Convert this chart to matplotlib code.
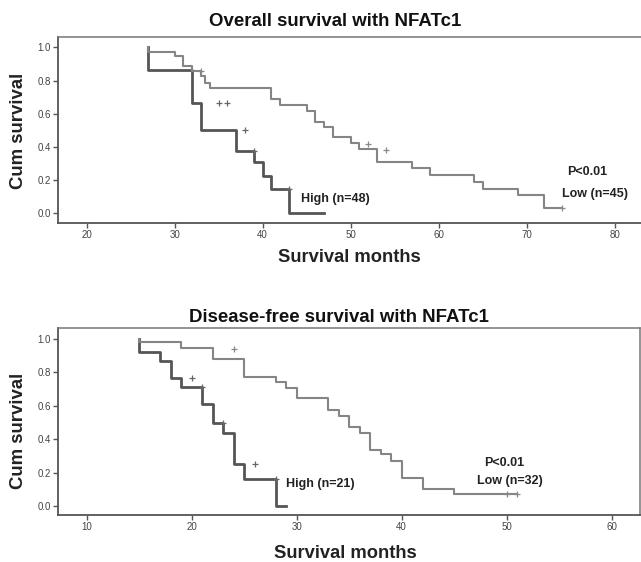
import matplotlib
matplotlib.use('Agg')
import matplotlib.pyplot as plt

plt.rcParams['font.family'] = ['Liberation Sans', 'DejaVu Sans']

# --- overall survival (top) ---
os_high_t = [27, 27, 32, 33, 37, 39, 40, 41, 43, 47]
os_high_s = [1.0, 0.863, 0.668, 0.502, 0.378, 0.31, 0.225, 0.15, 0.0, 0.0]
os_low_t = [27, 27, 30, 31, 32, 33, 33.5, 34, 41, 42, 45, 46, 47, 48, 50, 51, 53, 57, 59, 64, 65, 69, 72, 74]
os_low_s = [1.0, 0.975, 0.95, 0.885, 0.855, 0.83, 0.785, 0.753, 0.687, 0.652, 0.62, 0.552, 0.522,
            0.461, 0.422, 0.387, 0.307, 0.271, 0.231, 0.19, 0.15, 0.114, 0.036, 0.036]
os_high_cens_t = [35, 36, 38, 39, 43]
os_high_cens_s = [0.668, 0.668, 0.502, 0.378, 0.15]
os_low_cens_t = [33, 52, 54, 74]
os_low_cens_s = [0.855, 0.42, 0.385, 0.036]

# --- disease-free survival (bottom) ---
dfs_high_t = [15, 15, 17, 18, 19, 21, 22, 23, 24, 25, 28, 29]
dfs_high_s = [1.0, 0.92, 0.868, 0.765, 0.714, 0.609, 0.495, 0.435, 0.25, 0.162, 0.0, 0.0]
dfs_low_t = [15, 15, 19, 22, 25, 28, 29, 30, 33, 34, 35, 36, 37, 38, 39, 40, 42, 45, 51]
dfs_low_s = [1.0, 0.98, 0.944, 0.88, 0.774, 0.744, 0.71, 0.645, 0.575, 0.541, 0.475, 0.439,
             0.335, 0.311, 0.269, 0.17, 0.102, 0.07, 0.07]
dfs_high_cens_t = [20, 21, 23, 26, 28]
dfs_high_cens_s = [0.765, 0.714, 0.495, 0.25, 0.162]
dfs_low_cens_t = [24, 50, 51]
dfs_low_cens_s = [0.94, 0.07, 0.07]

HIGH_C = '#555555'
LOW_C = '#858585'
FRAME_C = '#555555'

fig = plt.figure(figsize=(6.41, 5.62), dpi=100)


def km_panel(rect, xlim, xticks, high, low, hcens, lcens, show_right):
    ax = fig.add_axes(rect)
    ax.step(high[0], high[1], where='post', color=HIGH_C, lw=2.0)
    ax.step(low[0], low[1], where='post', color=LOW_C, lw=1.5)
    ax.plot(hcens[0], hcens[1], '+', color='#666666', ms=5, mew=0.9)
    ax.plot(lcens[0], lcens[1], '+', color='#888888', ms=5, mew=0.9)
    ax.set_xlim(*xlim)
    ax.set_ylim(-0.058, 1.062)
    ax.set_xticks(xticks)
    ax.set_yticks([0.0, 0.2, 0.4, 0.6, 0.8, 1.0])
    ax.set_yticklabels(['0.0', '0.2', '0.4', '0.6', '0.8', '1.0'])
    ax.tick_params(direction='out', length=3.5, width=1.0, color=FRAME_C,
                   labelsize=7, labelcolor='#444444', pad=1.5)
    for side in ['left', 'bottom']:
        ax.spines[side].set_color(FRAME_C)
        ax.spines[side].set_linewidth(1.3)
    for side in ['top', 'right']:
        ax.spines[side].set_color('#777777')
        ax.spines[side].set_linewidth(1.1)
    ax.spines['right'].set_visible(show_right)
    return ax


ax1 = km_panel([0.0905, 0.603, 0.9095, 0.331], (16.74, 83.0), [20, 30, 40, 50, 60, 70, 80],
               (os_high_t, os_high_s), (os_low_t, os_low_s),
               (os_high_cens_t, os_high_cens_s), (os_low_cens_t, os_low_cens_s), False)
ax1.text(44.4, 0.086, 'High (n=48)', fontsize=9, fontweight='bold', color='#222222', va='center')
ax1.text(76.9, 0.25, 'P<0.01', fontsize=9, fontweight='bold', color='#222222', ha='center', va='center')
ax1.text(77.8, 0.12, 'Low (n=45)', fontsize=9, fontweight='bold', color='#222222', ha='center', va='center')

ax2 = km_panel([0.0905, 0.0836, 0.908, 0.332], (7.27, 62.7), [10, 20, 30, 40, 50, 60],
               (dfs_high_t, dfs_high_s), (dfs_low_t, dfs_low_s),
               (dfs_high_cens_t, dfs_high_cens_s), (dfs_low_cens_t, dfs_low_cens_s), True)
ax2.set_ylim(-0.054, 1.064)
ax2.text(29.0, 0.132, 'High (n=21)', fontsize=9, fontweight='bold', color='#222222', va='center')
ax2.text(49.8, 0.26, 'P<0.01', fontsize=9, fontweight='bold', color='#222222', ha='center', va='center')
ax2.text(50.3, 0.15, 'Low (n=32)', fontsize=9, fontweight='bold', color='#222222', ha='center', va='center')

# titles and axis labels placed in figure coords
fig.text(335 / 641, 1 - 22 / 562, 'Overall survival with NFATc1', fontsize=13.4, fontweight='bold',
         ha='center', va='center', color='#111111')
fig.text(339 / 641, 1 - 317 / 562, 'Disease-free survival with NFATc1', fontsize=13.4, fontweight='bold',
         ha='center', va='center', color='#111111')
fig.text(349 / 641, 1 - 257 / 562, 'Survival months', fontsize=13.2, fontweight='bold',
         ha='center', va='center', color='#222222')
fig.text(345 / 641, 1 - 554 / 562, 'Survival months', fontsize=13.2, fontweight='bold',
         ha='center', va='center', color='#222222')
fig.text(19 / 641, 1 - 131 / 562, 'Cum survival', fontsize=13.4, fontweight='bold', rotation=90,
         ha='center', va='center', color='#222222')
fig.text(19 / 641, 1 - 431 / 562, 'Cum survival', fontsize=13.4, fontweight='bold', rotation=90,
         ha='center', va='center', color='#222222')

fig.savefig('out.png', dpi=100)
